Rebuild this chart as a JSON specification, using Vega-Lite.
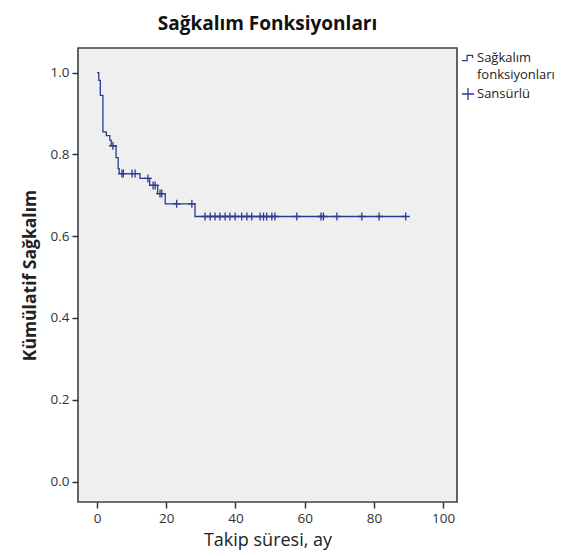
{
  "$schema": "https://vega.github.io/schema/vega-lite/v6.json",
  "width": 379,
  "height": 454,
  "autosize": {"type": "none"},
  "padding": {"left": 78, "top": 48, "right": 119, "bottom": 54},
  "background": "white",
  "title": {
    "text": "Sağkalım Fonksiyonları",
    "font": "Open Sans",
    "fontSize": 19,
    "fontWeight": "bold",
    "color": "#111111",
    "anchor": "middle",
    "offset": 14
  },
  "config": {
    "view": {"fill": "#efefef", "stroke": "#404040", "strokeWidth": 1.6},
    "axis": {
      "domain": false,
      "grid": false,
      "ticks": true,
      "tickColor": "#333333",
      "tickSize": 6,
      "tickWidth": 1.5,
      "labelFont": "Open Sans",
      "labelFontSize": 13.5,
      "labelColor": "#333333",
      "titleFont": "Open Sans",
      "titleColor": "#222222"
    }
  },
  "datasets": {
    "steps": [
      {"t": 0, "s": 1.0},
      {"t": 0.5, "s": 0.981},
      {"t": 0.95, "s": 0.944},
      {"t": 1.7, "s": 0.855},
      {"t": 2.7, "s": 0.846},
      {"t": 3.7, "s": 0.834},
      {"t": 4.1, "s": 0.821},
      {"t": 5.5, "s": 0.792},
      {"t": 6.1, "s": 0.765},
      {"t": 6.4, "s": 0.753},
      {"t": 12.4, "s": 0.741},
      {"t": 15.2, "s": 0.724},
      {"t": 17.5, "s": 0.704},
      {"t": 19.7, "s": 0.679},
      {"t": 28.3, "s": 0.648},
      {"t": 89.2, "s": 0.648}
    ],
    "cens": [
      {"t": 4.6, "s": 0.821, "type": "Sansürlü"},
      {"t": 7.2, "s": 0.753, "type": "Sansürlü"},
      {"t": 7.6, "s": 0.753, "type": "Sansürlü"},
      {"t": 10.1, "s": 0.753, "type": "Sansürlü"},
      {"t": 11.0, "s": 0.753, "type": "Sansürlü"},
      {"t": 14.7, "s": 0.741, "type": "Sansürlü"},
      {"t": 16.2, "s": 0.724, "type": "Sansürlü"},
      {"t": 16.8, "s": 0.724, "type": "Sansürlü"},
      {"t": 18.2, "s": 0.704, "type": "Sansürlü"},
      {"t": 18.7, "s": 0.704, "type": "Sansürlü"},
      {"t": 23.0, "s": 0.679, "type": "Sansürlü"},
      {"t": 27.4, "s": 0.679, "type": "Sansürlü"},
      {"t": 31.2, "s": 0.648, "type": "Sansürlü"},
      {"t": 32.7, "s": 0.648, "type": "Sansürlü"},
      {"t": 34.1, "s": 0.648, "type": "Sansürlü"},
      {"t": 35.5, "s": 0.648, "type": "Sansürlü"},
      {"t": 37.0, "s": 0.648, "type": "Sansürlü"},
      {"t": 38.4, "s": 0.648, "type": "Sansürlü"},
      {"t": 39.9, "s": 0.648, "type": "Sansürlü"},
      {"t": 41.8, "s": 0.648, "type": "Sansürlü"},
      {"t": 43.3, "s": 0.648, "type": "Sansürlü"},
      {"t": 44.7, "s": 0.648, "type": "Sansürlü"},
      {"t": 47.1, "s": 0.648, "type": "Sansürlü"},
      {"t": 48.1, "s": 0.648, "type": "Sansürlü"},
      {"t": 49.0, "s": 0.648, "type": "Sansürlü"},
      {"t": 50.5, "s": 0.648, "type": "Sansürlü"},
      {"t": 51.4, "s": 0.648, "type": "Sansürlü"},
      {"t": 57.7, "s": 0.648, "type": "Sansürlü"},
      {"t": 64.7, "s": 0.648, "type": "Sansürlü"},
      {"t": 65.4, "s": 0.648, "type": "Sansürlü"},
      {"t": 69.3, "s": 0.648, "type": "Sansürlü"},
      {"t": 76.5, "s": 0.648, "type": "Sansürlü"},
      {"t": 81.5, "s": 0.648, "type": "Sansürlü"},
      {"t": 89.2, "s": 0.648, "type": "Sansürlü"}
    ]
  },
  "layer": [
    {
      "data": {"name": "steps"},
      "mark": {"type": "line", "interpolate": "step-after", "color": "#2a3b96", "strokeWidth": 1.3},
      "encoding": {
        "x": {
          "field": "t", "type": "quantitative",
          "scale": {"domain": [-5.5, 104], "nice": false, "zero": false},
          "axis": {"values": [0, 20, 40, 60, 80, 100], "title": "Takip süresi, ay", "titleFontSize": 18, "titleFontWeight": "normal", "titlePadding": 7, "labelPadding": 3}
        },
        "y": {
          "field": "s", "type": "quantitative",
          "scale": {"domain": [-0.05, 1.06], "nice": false, "zero": false},
          "axis": {"values": [0, 0.2, 0.4, 0.6, 0.8, 1.0], "format": ".1f", "title": "Kümülatif Sağkalım", "titleFontSize": 17.5, "titleFontWeight": "bold", "titlePadding": 11, "labelPadding": 3}
        }
      }
    },
    {
      "data": {"name": "cens"},
      "mark": {"type": "point", "filled": false, "stroke": "#2a3b96", "strokeWidth": 1.3, "size": 64, "opacity": 1},
      "encoding": {
        "x": {"field": "t", "type": "quantitative"},
        "y": {"field": "s", "type": "quantitative"},
        "shape": {
          "field": "type", "type": "nominal",
          "scale": {
            "domain": ["Sağkalım fonksiyonları", "_", "Sansürlü"],
            "range": ["M-1,0.45H-0.15V-0.45H0.75V0", "M0,0", "M-1,0H1M0,-1V1"]
          },
          "legend": {
            "title": null,
            "orient": "none",
            "legendX": 383,
            "legendY": 3,
            "labelFont": "Open Sans",
            "labelFontSize": 13,
            "labelColor": "#222222",
            "labelOffset": 2,
            "symbolStrokeColor": "#2a3b96",
            "symbolStrokeWidth": 1.3,
            "symbolSize": 144,
            "rowPadding": 3,
            "labelExpr": "datum.value == 'Sağkalım fonksiyonları' ? 'Sağkalım' : (datum.value == '_' ? 'fonksiyonları' : datum.label)",
            "encode": {
              "symbols": {"update": {"shape": {"signal": "datum.value == 'Sansürlü' ? 'M-1,0H1M0,-0.5V0.5' : (datum.value == '_' ? 'M0,0' : 'M-1,0.45H-0.15V-0.45H0.75V0')"}, "size": {"signal": "datum.value == '_' ? 0 : 324"}, "stroke": {"value": "#2a3b96"}}}
            }
          }
        }
      }
    }
  ]
}
